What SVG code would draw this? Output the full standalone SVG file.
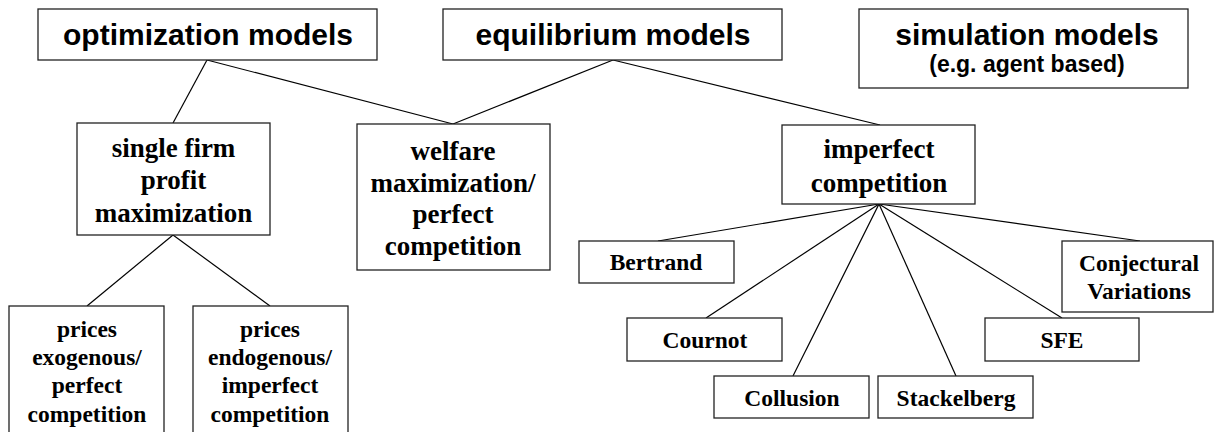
<svg xmlns="http://www.w3.org/2000/svg" width="1214" height="432" viewBox="0 0 1214 432">
<style>
.box{fill:#fff;stroke:#222;stroke-width:1.3}
.h{font-family:"Liberation Sans",Arial,sans-serif;font-weight:bold;font-size:30px;text-anchor:middle;fill:#000}
.hs{font-family:"Liberation Sans",Arial,sans-serif;font-weight:bold;font-size:23px;text-anchor:middle;fill:#000}
.m{font-family:"Liberation Serif","Times New Roman",serif;font-weight:bold;font-size:27px;text-anchor:middle;fill:#000}
.s{font-family:"Liberation Serif","Times New Roman",serif;font-weight:bold;font-size:23.5px;text-anchor:middle;fill:#000}
.c{stroke:#000;stroke-width:1.2;fill:none}
</style>
<rect width="1214" height="432" fill="#fff"/>
<g id="connectors">
<line class="c" x1="207" y1="60" x2="173" y2="123"/>
<line class="c" x1="207" y1="60" x2="453" y2="124"/>
<line class="c" x1="613" y1="60" x2="453" y2="124"/>
<line class="c" x1="613" y1="60" x2="880" y2="125"/>
<line class="c" x1="173" y1="235" x2="87" y2="306"/>
<line class="c" x1="173" y1="235" x2="270" y2="306"/>
<line class="c" x1="879" y1="204" x2="658" y2="241"/>
<line class="c" x1="879" y1="204" x2="706" y2="318"/>
<line class="c" x1="879" y1="204" x2="793" y2="376"/>
<line class="c" x1="879" y1="204" x2="956" y2="376"/>
<line class="c" x1="879" y1="204" x2="1062" y2="318"/>
<line class="c" x1="879" y1="204" x2="1140" y2="241"/>
</g>
<g id="optimization">
<rect class="box" x="38" y="9" width="339" height="51"/>
<text class="h" x="208" y="45">optimization models</text>
</g>
<g id="equilibrium">
<rect class="box" x="443" y="9" width="339" height="51"/>
<text class="h" x="613" y="45">equilibrium models</text>
</g>
<g id="simulation">
<rect class="box" x="859" y="9" width="329" height="79"/>
<text class="h" x="1027" y="45">simulation models</text>
<text class="hs" x="1027" y="72">(e.g. agent based)</text>
</g>
<g id="single-firm">
<rect class="box" x="77" y="123" width="193" height="112"/>
<text class="m" x="173.5" y="157">single firm</text>
<text class="m" x="173.5" y="189">profit</text>
<text class="m" x="173.5" y="222">maximization</text>
</g>
<g id="welfare">
<rect class="box" x="357" y="124" width="193" height="146"/>
<text class="m" x="453" y="160">welfare</text>
<text class="m" x="453" y="192">maximization/</text>
<text class="m" x="453" y="223">perfect</text>
<text class="m" x="453" y="255">competition</text>
</g>
<g id="imperfect">
<rect class="box" x="782" y="125" width="193" height="79"/>
<text class="m" x="879" y="158">imperfect</text>
<text class="m" x="879" y="192">competition</text>
</g>
<g id="prices-exogenous">
<rect class="box" x="9" y="306" width="155" height="140"/>
<text class="s" x="87" y="337">prices</text>
<text class="s" x="87" y="365">exogenous/</text>
<text class="s" x="87" y="393">perfect</text>
<text class="s" x="87" y="422">competition</text>
</g>
<g id="prices-endogenous">
<rect class="box" x="193" y="306" width="155" height="140"/>
<text class="s" x="270" y="337">prices</text>
<text class="s" x="270" y="365">endogenous/</text>
<text class="s" x="270" y="393">imperfect</text>
<text class="s" x="270" y="422">competition</text>
</g>
<g id="bertrand">
<rect class="box" x="579" y="241" width="155" height="42"/>
<text class="s" x="656" y="270">Bertrand</text>
</g>
<g id="cournot">
<rect class="box" x="627" y="318" width="155" height="43"/>
<text class="s" x="705" y="348">Cournot</text>
</g>
<g id="collusion">
<rect class="box" x="714" y="376" width="155" height="42"/>
<text class="s" x="792" y="406">Collusion</text>
</g>
<g id="stackelberg">
<rect class="box" x="878" y="376" width="155" height="42"/>
<text class="s" x="956" y="406">Stackelberg</text>
</g>
<g id="sfe">
<rect class="box" x="985" y="318" width="154" height="43"/>
<text class="s" x="1062" y="348">SFE</text>
</g>
<g id="conjectural">
<rect class="box" x="1062" y="241" width="151" height="71"/>
<text class="s" x="1139" y="271">Conjectural</text>
<text class="s" x="1139" y="299">Variations</text>
</g>
</svg>
